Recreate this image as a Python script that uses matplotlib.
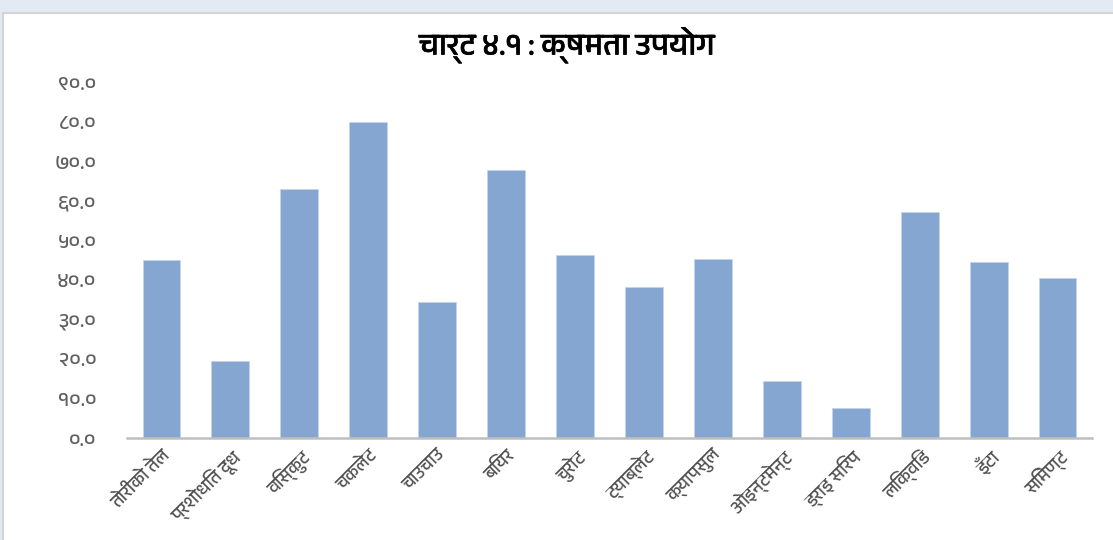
import matplotlib
matplotlib.use('Agg')
import matplotlib.pyplot as plt
from matplotlib import font_manager
from matplotlib.patches import Rectangle
import matplotlib.patheffects as pe

# look for a font that has Devanagari glyphs
deva = []
for f in font_manager.fontManager.ttflist:
    if any(k in f.name for k in ['Devanagari', 'Lohit', 'Mukta', 'Kalimati', 'Mangal', 'Gargi', 'Hind']):
        if f.name not in deva:
            deva.append(f.name)
families = deva + ['Noto Sans', 'DejaVu Sans']
plt.rcParams['font.family'] = families

title = "चार्ट ४.१ : क्षमता उपयोग"
products = ["तोरीको तेल", "प्रशोधित दूध", "विस्कुट", "चकलेट", "चाउचाउ", "बियर", "चुरोट",
            "ट्याब्लेट", "क्यापसुल", "ओइन्टमेन्ट", "ड्राइ सिरप", "लिक्विड", "इँटा", "सिमेण्ट"]
capacity = [45.1, 19.5, 63.0, 80.0, 34.3, 67.7, 46.3, 38.2, 45.3, 14.4, 7.6, 57.1, 44.6, 40.5]
yticks = [0, 10, 20, 30, 40, 50, 60, 70, 80, 90]
ytick_labels = ["०.०", "१०.०", "२०.०", "३०.०", "४०.०", "५०.०", "६०.०", "७०.०", "८०.०", "९०.०"]

fig = plt.figure(figsize=(11.13, 5.40), dpi=100, facecolor='#E4EAF4')
fig.patches.append(Rectangle((3 / 1113, -0.01), 1.0, 1 - 13 / 540 + 0.01, transform=fig.transFigure,
                             facecolor='white', edgecolor='#D4D4D4', linewidth=1.5, zorder=-5))

ax = fig.add_axes([127 / 1113, 1 - 438 / 540, (1092 - 127) / 1113, (438 - 82) / 540])
ax.set_zorder(2)
ax.set_facecolor('none')
x = range(len(products))
ax.bar(x, capacity, width=0.55, color='#84A6D1', edgecolor='#C4D5EA', linewidth=0.6)
ax.set_xlim(-0.5, len(products) - 0.5)
ax.set_ylim(0, 90)

ax.set_yticks(yticks)
ax.set_yticklabels(ytick_labels, color='#606060', fontsize=15)
ax.set_xticks(list(x))
ax.set_xticklabels(products, rotation=45, ha='right', rotation_mode='anchor', fontsize=13, color='#505050')
ax.tick_params(axis='y', length=0, pad=22)
ax.tick_params(axis='x', length=0, pad=6)

for s in ['top', 'right', 'left']:
    ax.spines[s].set_visible(False)
ax.spines['bottom'].set_color('#BFBFBF')
ax.spines['bottom'].set_linewidth(1.8)

fig.text(567 / 1113, 1 - 45 / 540, title, ha='center', va='center', fontsize=22, color='black',
         path_effects=[pe.withStroke(linewidth=0.5, foreground='black')])

fig.savefig('out.png', dpi=100, facecolor=fig.get_facecolor())
